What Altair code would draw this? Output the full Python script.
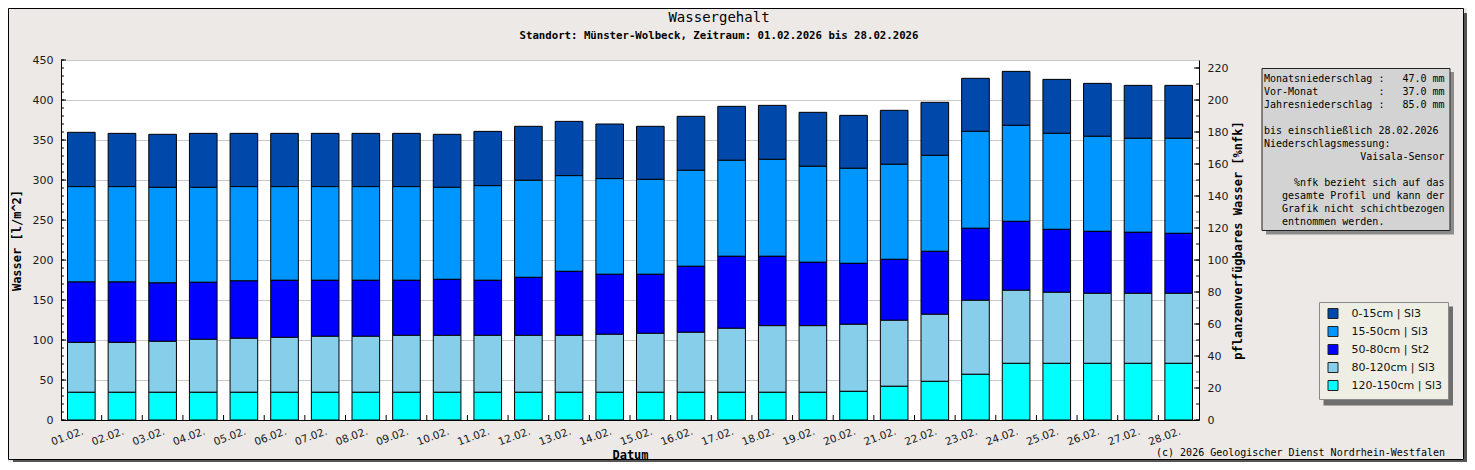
import altair as alt
import pandas as pd

# ---------------- data ----------------
days = ["01.02.", "02.02.", "03.02.", "04.02.", "05.02.", "06.02.", "07.02.",
        "08.02.", "09.02.", "10.02.", "11.02.", "12.02.", "13.02.", "14.02.",
        "15.02.", "16.02.", "17.02.", "18.02.", "19.02.", "20.02.", "21.02.",
        "22.02.", "23.02.", "24.02.", "25.02.", "26.02.", "27.02.", "28.02."]

layer_names = ["0-15cm | Sl3", "15-50cm | Sl3", "50-80cm | St2",
               "80-120cm | Sl3", "120-150cm | Sl3"]
layer_colors = ["#0048AA", "#0096FF", "#0000FF", "#87CEEB", "#00FFFF"]

v_0_15 = [67.9, 66.6, 66.3, 67.5, 66.6, 66.6, 66.6, 66.6, 66.6, 66.3, 67.9, 67.5, 67.9, 68.3,
          66.3, 67.5, 67.5, 67.5, 67.5, 66.2, 67.5, 66.3, 66.3, 67.5, 67.5, 66.2, 66.2, 66.2]
v_15_50 = [119.2, 119.2, 119.5, 118.7, 117.9, 117.1, 117.1, 117.1, 117.1, 115.0, 118.3, 121.3, 119.6, 119.6,
           118.7, 120.0, 120.0, 121.2, 120.0, 118.8, 118.8, 120.0, 121.2, 120.0, 120.0, 118.8, 117.5, 118.8]
v_50_80 = [75.5, 75.5, 73.0, 71.3, 71.7, 71.3, 70.0, 70.0, 68.8, 70.0, 68.8, 72.5, 80.0, 75.0,
           73.8, 82.5, 90.0, 86.7, 79.2, 76.2, 76.2, 78.7, 90.0, 86.2, 78.7, 77.5, 76.3, 75.0]
v_80_120 = [62.4, 62.4, 63.7, 66.2, 67.5, 68.7, 70.0, 70.0, 71.2, 71.2, 71.2, 71.2, 71.2, 72.5,
            73.7, 75.0, 80.0, 83.3, 83.3, 83.8, 82.5, 83.8, 92.5, 91.3, 88.8, 87.5, 87.5, 87.5]
v_120_150 = [34.6, 34.6, 34.6, 34.6, 34.6, 34.6, 34.6, 34.6, 34.6, 34.6, 34.6, 34.6, 34.6, 34.6,
             34.6, 34.6, 34.6, 34.6, 34.6, 35.8, 42.1, 48.3, 57.1, 70.8, 70.8, 70.8, 70.8, 70.8]
series = [v_0_15, v_15_50, v_50_80, v_80_120, v_120_150]
stack_rank = [4, 3, 2, 1, 0]   # 120-150cm at the bottom

title_text = "Wassergehalt"
subtitle_text = "Standort: Münster-Wolbeck, Zeitraum: 01.02.2026 bis 28.02.2026"
y_title = "Wasser [l/m^2]"
y2_title = "pflanzenverfügbares Wasser [%nfk]"
x_title = "Datum"
credit_text = "(c) 2026 Geologischer Dienst Nordrhein-Westfalen"
info_lines = [
    "Monatsniederschlag :   47.0 mm",
    "Vor-Monat          :   37.0 mm",
    "Jahresniederschlag :   85.0 mm",
    "",
    "bis einschließlich 28.02.2026",
    "Niederschlagsmessung:",
    "                Vaisala-Sensor",
    "",
    "     %nfk bezieht sich auf das",
    "   gesamte Profil und kann der",
    "   Grafik nicht schichtbezogen",
    "   entnommen werden.",
]

left_major = list(range(0, 451, 50))
left_minor = list(range(0, 451, 10))
right_major = list(range(0, 221, 20))
right_minor = list(range(0, 221, 10))
x_bounds = list(range(1, len(days)))

rows = []
for name, vals, rank in zip(layer_names, series, stack_rank):
    for d, v in zip(days, vals):
        rows.append({"day": d, "layer": name, "value": v, "rank": rank})
df = pd.DataFrame(rows)

# ---------------- layout ----------------
W, H = 1138, 360
PAD = {"left": 53, "top": 52, "right": 268, "bottom": 42}
MONO = "DejaVu Sans Mono"
SANS = "DejaVu Sans"
BG = "#ECE9E7"
NB = "\u00a0"
CHW = 6.02  # width of one monospace character at 10px

LEG_X, LEG_Y, LEG_W, LEG_H = 1258, 242, 129.5, 99

bars = alt.Chart(df).mark_bar(stroke="black", strokeWidth=1).encode(
    x=alt.X("day:N", sort=days,
            scale=alt.Scale(paddingInner=0.32, paddingOuter=0.16),
            axis=alt.Axis(title=x_title, labelAngle=-20, labelAlign="right", labelBaseline="top",
                          labelPadding=6, ticks=False, labelOverlap=False, domainColor="black",
                          labelFont=SANS, labelFontSize=10.5, labelColor="#1a1a1a",
                          titleFont=MONO, titleFontSize=12, titleFontWeight="bold", titleColor="black",
                          titleX=W / 2, titleY=34, titleAlign="center", titleBaseline="middle")),
    y=alt.Y("value:Q", stack="zero", scale=alt.Scale(domain=[0, 450], nice=False),
            axis=alt.Axis(values=left_major, title=y_title, grid=True, gridColor="#C8C8C8",
                          ticks=False, labelPadding=8, domainColor="black",
                          labelFont=SANS, labelFontSize=11, labelColor="#1a1a1a",
                          titleFont=MONO, titleFontSize=12, titleFontWeight="bold", titleColor="black",
                          titleX=-45, titleY=H / 2, titleAngle=270, titleAlign="center",
                          titleBaseline="middle")),
    color=alt.Color("layer:N", scale=alt.Scale(domain=layer_names, range=layer_colors),
                    legend=alt.Legend(title=None, orient="none", legendX=LEG_X, legendY=LEG_Y,
                                      fillColor="#EEEEE4", strokeColor="#8A8A8A", padding=6,
                                      symbolType="square", symbolSize=100, symbolStrokeColor="#222",
                                      symbolStrokeWidth=1, symbolOffset=2.5, labelFont=SANS,
                                      labelFontSize=11, labelColor="#111", labelOffset=13,
                                      rowPadding=3)),
    order=alt.Order("rank:Q", sort="ascending"),
)


def hrules(vals, name, domain, x1, x2, axis=None):
    return alt.Chart(pd.DataFrame({name: vals})).mark_rule(color="black", strokeWidth=1).encode(
        y=alt.Y(f"{name}:Q", scale=alt.Scale(domain=domain, nice=False), axis=axis),
        x=alt.value(x1), x2=alt.value(x2))


right_axis = alt.Axis(orient="right", values=right_major, title=y2_title, grid=False, ticks=False,
                      labelPadding=8, domainColor="black", labelFont=SANS, labelFontSize=11,
                      labelColor="#1a1a1a", titleFont=MONO, titleFontSize=12,
                      titleFontWeight="bold", titleColor="black", titleX=38, titleY=H / 2,
                      titleAngle=270, titleAlign="center", titleBaseline="middle")

lt_major = hrules(left_major, "lm", [0, 450], 0, 5)
lt_minor = hrules(left_minor, "ln", [0, 450], 0, 3)
rt_minor = hrules(right_minor, "rn", [0, 225], W, W - 3, axis=right_axis)
rt_major = hrules(right_major, "rm", [0, 225], W, W - 5)

xt = alt.Chart(pd.DataFrame({"k": x_bounds})).mark_rule(color="black", strokeWidth=1).encode(
    x=alt.X("k:Q", scale=alt.Scale(domain=[0, len(days)], nice=False, zero=True), axis=None),
    y=alt.value(H), y2=alt.value(H - 5))


def text_layer(txt, x, y, size, weight="normal", align="left", font=MONO):
    return alt.Chart(pd.DataFrame({"t": [txt.replace(" ", NB)]})).mark_text(
        font=font, fontSize=size, fontWeight=weight, align=align, baseline="middle",
        color="black").encode(text="t:N", x=alt.value(x), y=alt.value(y))


def rect_layer(x, x2, y, y2, **kw):
    return alt.Chart(pd.DataFrame({"a": [0]})).mark_rect(**kw).encode(
        x=alt.value(x), x2=alt.value(x2), y=alt.value(y), y2=alt.value(y2))


frame_layers = [
    rect_layer(1403, 1406, -47, 402, fill="#555555"),
    rect_layer(-48, 1406, 400, 402, fill="#555555"),
    rect_layer(-52.5, 1402.5, -51.5, 399.5, fillOpacity=0, stroke="black", strokeWidth=1),
]

info_layers = [
    rect_layer(1205, 1393, 12, 174.5, fill="#8C8C8C"),
    rect_layer(1201, 1389, 8.5, 170.5, fill="#D3D3D3", stroke="#222222", strokeWidth=1),
]
for i, line in enumerate(info_lines):
    body = line.lstrip(" ")
    if body:
        indent = len(line) - len(body)
        info_layers.append(text_layer(body, 1203 + indent * CHW, 19.3 + 13 * i, 10))

legend_shadow = rect_layer(LEG_X + 4.5, LEG_X + LEG_W + 4.5, LEG_Y + 4.5, LEG_Y + LEG_H + 4.5,
                           fill="#6E6E6E")

texts = [
    text_layer(title_text, 658, -42, 14, align="center"),
    text_layer(subtitle_text, 658, -24.5, 10.7, weight="bold", align="center"),
    text_layer(credit_text, 1384, 393, 10, align="right"),
]

chart = alt.layer(
    bars, lt_major, lt_minor, rt_minor, rt_major, xt,
    *frame_layers, *info_layers, legend_shadow, *texts
).resolve_scale(x="independent", y="independent").properties(
    width=W, height=H,
    autosize=alt.AutoSizeParams(type="none"),
    padding=PAD,
    background=BG,
).configure_view(fill="white", strokeWidth=0)

chart.save("out.html", embed_options={"renderer": "svg", "actions": False})
